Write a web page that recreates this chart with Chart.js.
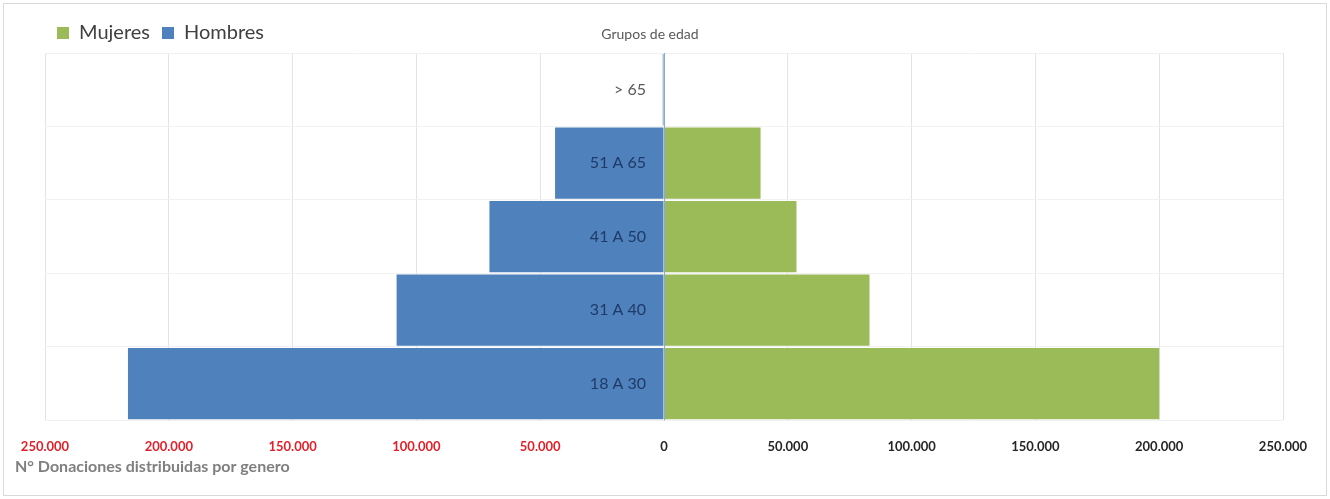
<!DOCTYPE html>
<html>
<head>
<meta charset="utf-8">
<script src="https://cdn.jsdelivr.net/npm/chart.js@4.4.1/dist/chart.umd.min.js"></script>
<style>
  html, body { margin: 0; padding: 0; background: #fff; }
  #wrap { width: 1330px; height: 499px; }
</style>
</head>
<body>
<div id="wrap"><canvas id="myChart" width="1330" height="499"></canvas></div>
<script>
// age groups, top to bottom
const ageGroups = ['> 65', '51 A 65', '41 A 50', '31 A 40', '18 A 30'];
// donations by gender (Hombres plotted on the negative side)
const mujeres = [0, 39000, 53500, 83000, 200000];
const hombres = [-500, -44000, -70500, -108000, -216500];
const xTicks = [-250000, -200000, -150000, -100000, -50000, 0, 50000, 100000, 150000, 200000, 250000];

const FONT = 'Lato, "Open Sans", sans-serif';

function fmt(v) {
    return String(Math.abs(v)).replace(/\B(?=(\d{3})+(?!\d))/g, '.');
}

// frame, category labels, axis captions
const extras = {
    id: 'extras',
    beforeDraw(chart) {
        const ctx = chart.ctx;
        ctx.save();
        ctx.strokeStyle = '#d9d9d9';
        ctx.lineWidth = 1;
        ctx.strokeRect(3.5, 3.5, chart.width - 7, chart.height - 7);
        ctx.restore();
    },
    afterDatasetsDraw(chart) {
        const ctx = chart.ctx;
        const x = chart.scales.x;
        const y = chart.scales.y;
        const x0 = x.getPixelForValue(0);
        ctx.save();
        ctx.strokeStyle = '#8ea9cf';
        ctx.lineWidth = 1;
        ctx.beginPath();
        ctx.moveTo(Math.round(x0) + 0.5, chart.chartArea.top);
        ctx.lineTo(Math.round(x0) + 0.5, chart.chartArea.bottom);
        ctx.stroke();

        ctx.textAlign = 'right';
        ctx.textBaseline = 'middle';
        ctx.font = '16px ' + FONT;
        ageGroups.forEach((g, i) => {
            ctx.fillStyle = i === 0 ? '#595959' : '#1f3a66';
            ctx.fillText(g, x0 - 18, y.getPixelForValue(i));
        });
        ctx.textAlign = 'center';
        ctx.font = '14px ' + FONT;
        ctx.fillStyle = '#595959';
        ctx.fillText('Grupos de edad', x0 - 14, 34);
        ctx.textAlign = 'left';
        ctx.font = 'bold 16px ' + FONT;
        ctx.fillStyle = '#7f7f7f';
        ctx.fillText('N° Donaciones distribuidas por genero', 15, 467);
        ctx.restore();
    }
};

new Chart(document.getElementById('myChart').getContext('2d'), {
    type: 'bar',
    data: {
        labels: ageGroups,
        datasets: [
            {
                label: 'Mujeres',
                data: mujeres,
                backgroundColor: '#9bbb59',
                barPercentage: 0.97,
                categoryPercentage: 1
            },
            {
                label: 'Hombres',
                data: hombres,
                backgroundColor: '#4f81bd',
                barPercentage: 0.97,
                categoryPercentage: 1
            }
        ]
    },
    options: {
        indexAxis: 'y',
        responsive: false,
        animation: false,
        layout: { padding: { left: 45, right: 47, top: 11, bottom: 25 } },
        plugins: {
            legend: {
                position: 'top',
                align: 'start',
                labels: {
                    font: { family: FONT, size: 20 },
                    color: '#404040',
                    boxWidth: 12,
                    boxHeight: 12,
                    padding: 12
                }
            },
            tooltip: { enabled: false }
        },
        scales: {
            x: {
                stacked: true,
                min: -250000,
                max: 250000,
                afterBuildTicks: (axis) => { axis.ticks = xTicks.map(v => ({ value: v })); },
                ticks: {
                    font: { family: FONT, size: 13, weight: 'bold' },
                    color: (c) => c.tick && c.tick.value < 0 ? '#e3202a' : '#262626',
                    callback: (v) => fmt(v),
                    maxRotation: 0,
                    autoSkip: false,
                    padding: 19
                },
                grid: { color: '#e3e3e3', drawTicks: false },
                border: { display: false }
            },
            y: {
                stacked: true,
                ticks: { display: false },
                grid: { color: '#f1f1f1', drawTicks: false },
                border: { display: false }
            }
        }
    },
    plugins: [extras]
});
</script>
</body>
</html>
